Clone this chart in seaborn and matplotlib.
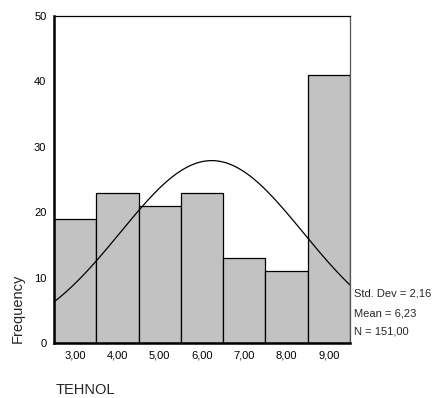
import numpy as np
import pandas as pd
import matplotlib
matplotlib.use("Agg")
import matplotlib.pyplot as plt
import seaborn as sns

# Data
values = [3, 4, 5, 6, 7, 8, 9]
counts = [19, 23, 21, 23, 13, 11, 41]
x_tick_labels = ["3,00", "4,00", "5,00", "6,00", "7,00", "8,00", "9,00"]
y_ticks = [0, 10, 20, 30, 40, 50]
mean_val = 6.23
std_val = 2.16
n_val = 151
stats_lines = ["Std. Dev = 2,16", "Mean = 6,23", "N = 151,00"]

sns.set_style("white")
plt.rcParams['font.family'] = ['Liberation Sans', 'DejaVu Sans']

fig = plt.figure(figsize=(4.37, 3.98), dpi=100)
ax = fig.add_axes([54/437, 1 - 343/398, (350-54)/437, (343-16)/398])

df = pd.DataFrame({"v": values, "c": counts})
sns.histplot(data=df, x="v", weights="c", discrete=True,
             color="#c2c2c2", alpha=1.0, edgecolor="black", linewidth=0.9, ax=ax)

xs = np.linspace(2.5, 9.5, 200)
ys = n_val * 1.0 * np.exp(-0.5 * ((xs - mean_val) / std_val) ** 2) / (std_val * np.sqrt(2 * np.pi))
sns.lineplot(x=xs, y=ys, color="black", linewidth=0.9, ax=ax)

ax.set_xlim(2.5, 9.5)
ax.set_ylim(0, 50)
ax.set_xticks(values)
ax.set_xticklabels(x_tick_labels, fontsize=8)
ax.set_yticks(y_ticks)
ax.set_yticklabels([str(t) for t in y_ticks], fontsize=8)
ax.tick_params(axis='both', which='both', direction='out', length=2.5, width=1.5, pad=3, colors='black')

for side in ['left', 'bottom']:
    ax.spines[side].set_linewidth(1.8)
    ax.spines[side].set_color('black')
ax.spines['top'].set_linewidth(0.9)
ax.spines['top'].set_color('black')
ax.spines['right'].set_linewidth(0.9)
ax.spines['right'].set_color('#555555')

ax.set_xlabel("")
ax.set_ylabel("")
fig.text(18/437, 1 - 308/398, "Frequency", rotation=90, ha='center', va='center', fontsize=10.5)
fig.text(56/437, 1 - 390/398, "TEHNOL", ha='left', va='center', fontsize=10.5)

for i, (line, yy) in enumerate(zip(stats_lines, [293, 313, 332])):
    fig.text(354/437, 1 - yy/398, line, ha='left', va='center', fontsize=8)

fig.savefig("out.png", dpi=100)
